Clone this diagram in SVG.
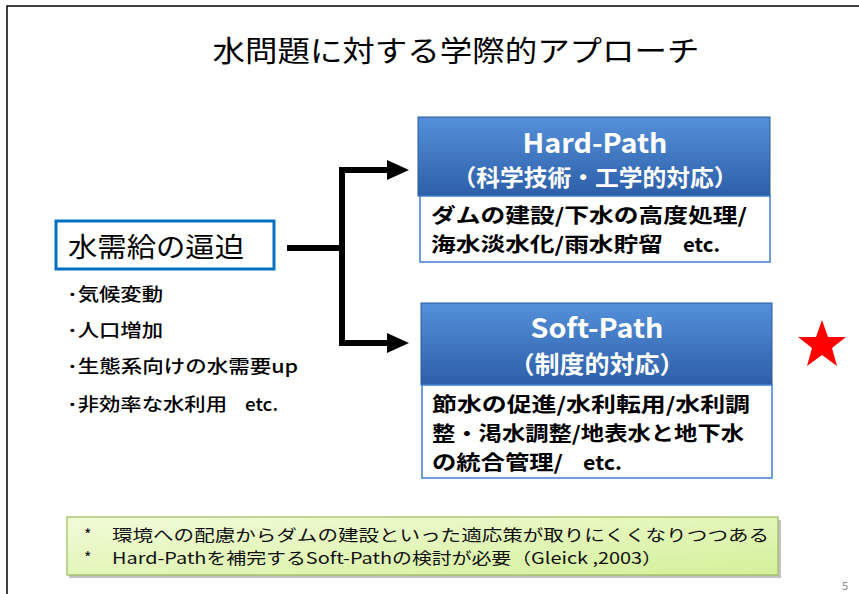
<svg xmlns="http://www.w3.org/2000/svg" width="859" height="594" viewBox="0 0 859 594">
<defs>
<linearGradient id="hdr" x1="0" y1="0" x2="0" y2="1">
<stop offset="0" stop-color="#5590DA"/>
<stop offset="1" stop-color="#2D5FA8"/>
</linearGradient>
<linearGradient id="grn" x1="0" y1="0" x2="1" y2="1">
<stop offset="0" stop-color="#F2FBD9"/>
<stop offset="1" stop-color="#D4F09A"/>
</linearGradient>
<marker id="arr" markerWidth="22" markerHeight="22" refX="0" refY="10" orient="auto" markerUnits="userSpaceOnUse">
<path d="M0,0 L22,10 L0,20 Z" fill="#000"/>
</marker>
</defs>
<style>
.jp{font-family:"Noto Sans CJK JP","Noto Sans",sans-serif}
.hd{fill:#fff;font-weight:bold;text-anchor:middle}
.bd{fill:#000;font-weight:bold;font-size:20px}
.bl{fill:#000;font-size:18px;font-weight:500}
.bt{fill:#111;font-size:16px;font-weight:400}
.hbox{fill:url(#hdr);stroke:#2A5A9C;stroke-width:1}
.bbox{fill:#fff;stroke:#3F7FD0;stroke-width:1.5}
</style>
<rect width="859" height="594" fill="#fff"/>
<path d="M7,594 L7,6 L859,6" fill="none" stroke="#000" stroke-width="1.5"/>
<g id="title">
<text class="jp" x="456" y="62" font-size="29" text-anchor="middle" fill="#000" textLength="487" lengthAdjust="spacingAndGlyphs">水問題に対する学際的アプローチ</text>
</g>
<g id="demand">
<rect x="56" y="221" width="218" height="48" fill="#fff" stroke="#0070C0" stroke-width="3"/>
<text class="jp" x="68" y="257" font-size="27" fill="#000" textLength="176" lengthAdjust="spacingAndGlyphs">水需給の逼迫</text>
</g>
<g id="causes">
<text class="jp bl" x="67" y="301" textLength="96" lengthAdjust="spacingAndGlyphs">･気候変動</text>
<text class="jp bl" x="67" y="337" textLength="96" lengthAdjust="spacingAndGlyphs">･人口増加</text>
<text class="jp bl" x="67" y="373" textLength="231" lengthAdjust="spacingAndGlyphs">･生態系向けの水需要up</text>
<text class="jp bl" x="67" y="411" textLength="160" lengthAdjust="spacingAndGlyphs">･非効率な水利用</text>
<text class="jp bl" x="245" y="411" font-size="16" textLength="33" lengthAdjust="spacingAndGlyphs">etc.</text>
</g>
<g id="connectors" fill="none" stroke="#000" stroke-width="6">
<path d="M287,248 L342,248"/>
<path d="M342,170 L342,343"/>
<path d="M339,170 L387,170" marker-end="url(#arr)"/>
<path d="M339,343 L387,343" marker-end="url(#arr)"/>
</g>
<g id="hardpath">
<rect class="hbox" x="418" y="117" width="352" height="79"/>
<text class="jp hd" x="595" y="153" font-size="27" textLength="145" lengthAdjust="spacingAndGlyphs">Hard-Path</text>
<text class="jp hd" x="595" y="186" font-size="23" textLength="285" lengthAdjust="spacingAndGlyphs">（科学技術・工学的対応）</text>
<rect class="bbox" x="420" y="196" width="350" height="66"/>
<text class="jp bd" x="431" y="223" textLength="316" lengthAdjust="spacingAndGlyphs">ダムの建設/下水の高度処理/</text>
<text class="jp bd" x="431" y="252" textLength="232" lengthAdjust="spacingAndGlyphs">海水淡水化/雨水貯留</text>
<text class="jp bd" x="683" y="252" font-size="17" textLength="37" lengthAdjust="spacingAndGlyphs">etc.</text>
</g>
<g id="softpath">
<rect class="hbox" x="421" y="303" width="351" height="82"/>
<text class="jp hd" x="597" y="338" font-size="27" textLength="133" lengthAdjust="spacingAndGlyphs">Soft-Path</text>
<text class="jp hd" x="597" y="373" font-size="24" textLength="175" lengthAdjust="spacingAndGlyphs">（制度的対応）</text>
<rect class="bbox" x="422" y="385" width="350" height="93"/>
<text class="jp bd" x="432" y="412" textLength="318" lengthAdjust="spacingAndGlyphs">節水の促進/水利転用/水利調</text>
<text class="jp bd" x="432" y="441" textLength="312" lengthAdjust="spacingAndGlyphs">整・渇水調整/地表水と地下水</text>
<text class="jp bd" x="432" y="470" textLength="131" lengthAdjust="spacingAndGlyphs">の統合管理/</text>
<text class="jp bd" x="583" y="470" font-size="17" textLength="39" lengthAdjust="spacingAndGlyphs">etc.</text>
</g>
<g id="star">
<polygon points="822,320 828,337 846,337 832,348 837,366 822,355 807,366 812,348 798,337 816,337" fill="#FF0000"/>
</g>
<g id="note">
<rect x="69" y="520" width="712" height="58" fill="#9a9a9a" opacity="0.6"/>
<rect x="67" y="517" width="711" height="58" fill="url(#grn)" stroke="#9BBB59" stroke-width="1.2"/>
<text class="jp bt" x="84" y="541">*</text>
<text class="jp bt" x="112" y="541" textLength="657" lengthAdjust="spacingAndGlyphs">環境への配慮からダムの建設といった適応策が取りにくくなりつつある</text>
<text class="jp bt" x="84" y="564">*</text>
<text class="jp bt" x="112" y="564" textLength="550" lengthAdjust="spacingAndGlyphs">Hard-Pathを補完するSoft-Pathの検討が必要（Gleick ,2003）</text>
</g>
<text class="jp" x="842" y="590" font-size="11" fill="#888">5</text>
</svg>
